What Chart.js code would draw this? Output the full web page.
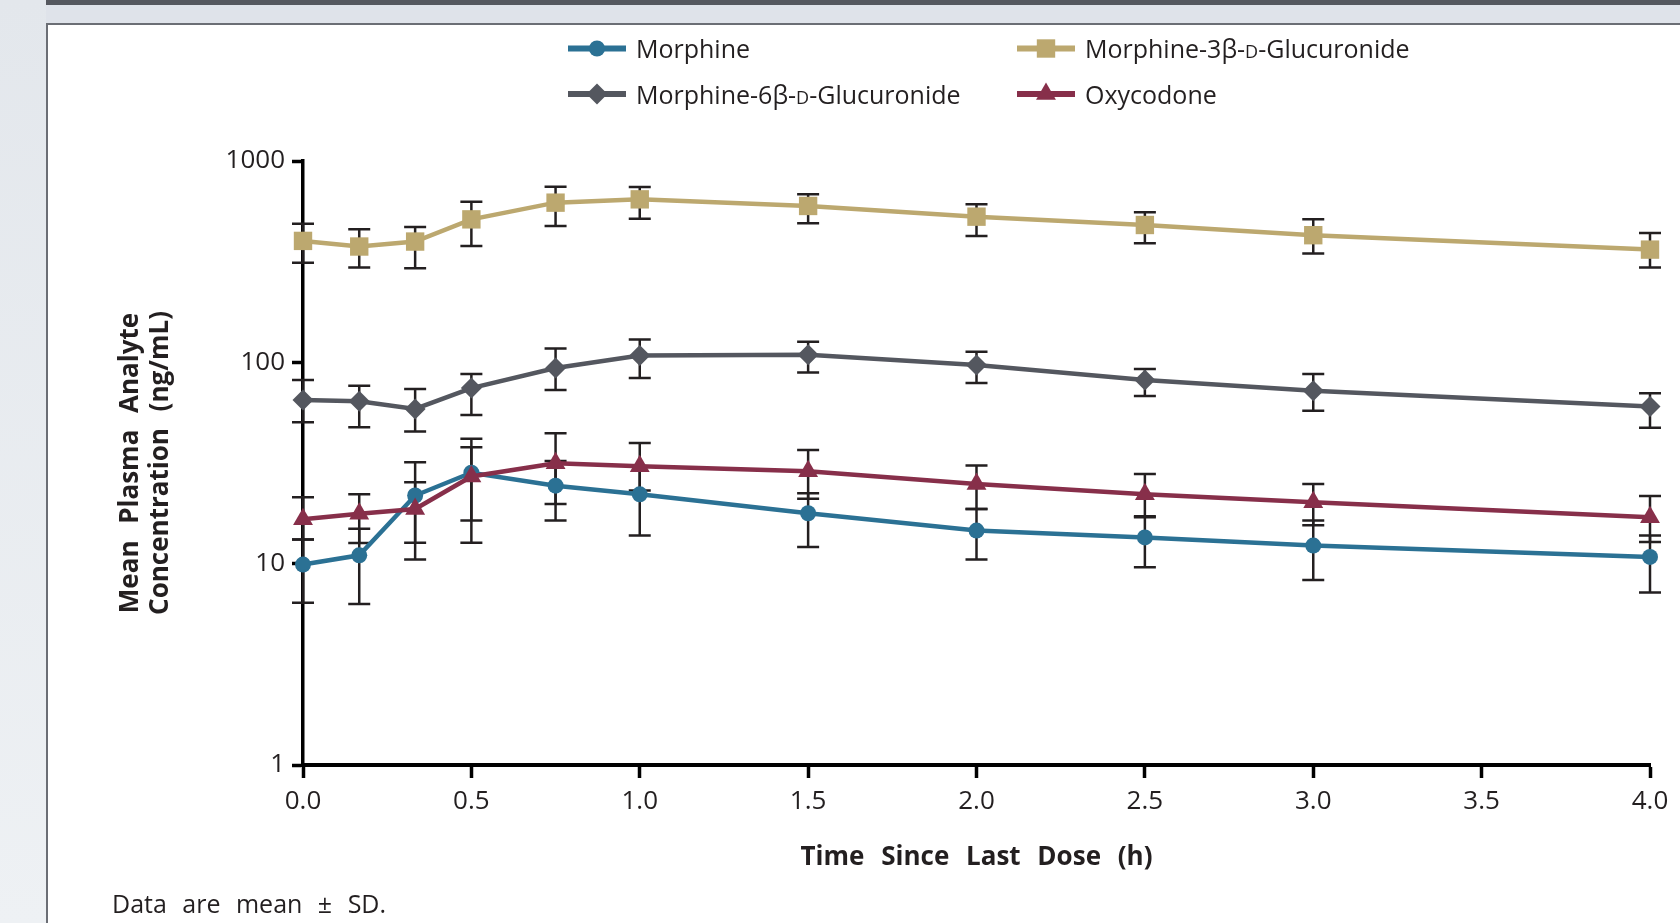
<!DOCTYPE html>
<html>
<head>
<meta charset="utf-8">
<title>Mean Plasma Analyte Concentration</title>
<script src="https://cdn.jsdelivr.net/npm/chart.js@4.4.1/dist/chart.umd.min.js"></script>
<style>
  html, body { margin: 0; padding: 0; }
  body { width: 1680px; height: 923px; overflow: hidden; position: relative;
         background: linear-gradient(#e3e7ec, #eef1f4); font-family: "Open Sans", sans-serif; }
  #topbar { position: absolute; left: 46px; top: 0; right: 0; height: 5px; background: #55585f; }
  #band { position: absolute; left: 46px; top: 5px; right: 0; height: 18px; background: #dfe3ea; }
  #panel { position: absolute; left: 46px; top: 23px; right: -10px; bottom: -10px;
           background: #fff; border: 2.5px solid #6b6e75; }
  #wrap { position: absolute; left: 0; top: 0; width: 1680px; height: 923px; }
  #note { position: absolute; left: 112px; top: 888px; font-size: 25px; line-height: 30px;
          word-spacing: 9px; color: #231f20; white-space: nowrap; }
</style>
</head>
<body>
<div id="topbar"></div>
<div id="band"></div>
<div id="panel"></div>
<div id="wrap"><canvas id="myChart"></canvas></div>
<div id="note">Data are mean ± SD.</div>

<script>
// time since last dose (h)
var times = [0, 0.167, 0.333, 0.5, 0.75, 1, 1.5, 2, 2.5, 3, 4];
var xTickValues = [0, 0.5, 1, 1.5, 2, 2.5, 3, 3.5, 4];
var yTickValues = [1, 10, 100, 1000];

var seriesNames = ['Morphine', 'Morphine-3β-D-Glucuronide', 'Morphine-6β-D-Glucuronide', 'Oxycodone'];

// mean values (ng/mL) and the ends of the SD bars
var morphine     = [9.9, 11.0, 21.8, 28.3, 24.4, 22.1, 17.8, 14.6, 13.5, 12.3, 10.8];
var morphineLow  = [6.4, 6.3, 10.5, 12.7, 16.4, 13.8, 12.1, 10.5, 9.6, 8.3, 7.2];
var morphineHigh = [13.2, 14.9, 31.9, 41.7, 32.4, 30.4, 22.4, 18.7, 17.2, 16.4, 13.8];

var m3g     = [401, 376, 398, 513, 621, 645, 598, 529, 481, 428, 363];
var m3gLow  = [312, 296, 293, 378, 476, 517, 490, 424, 390, 347, 296];
var m3gHigh = [488, 458, 470, 628, 745, 743, 683, 609, 556, 513, 439];

var m6g     = [65.0, 64.0, 58.7, 74.5, 93.7, 108, 109, 97, 81.7, 72.3, 60.3];
var m6gLow  = [50.4, 47.6, 45.3, 54.8, 72.9, 83.6, 89, 78.9, 68.1, 57.5, 47.3];
var m6gHigh = [81.7, 76.6, 73.7, 87.5, 117, 130, 126.5, 113, 92.6, 87.5, 70.2];

var oxycodone = [16.6, 17.7, 18.7, 27.1, 31.5, 30.5, 28.8, 24.9, 22.1, 20.2, 17.0];
var oxyLow    = [13.2, 12.65, 12.7, 16.4, 19.8, 23.1, 21.0, 18.7, 17.0, 15.5, 12.8];
var oxyHigh   = [21.4, 22.1, 25.4, 37.9, 44.4, 39.8, 36.7, 30.7, 27.9, 24.9, 21.7];

var INK = '#231f20';
var FONT = '"Open Sans", sans-serif';

function points(vals) {
    return times.map(function(t, i) { return {x: t, y: vals[i]}; });
}

function series(name, vals, lo, hi, color, style, radius, order) {
    return {
        label: name,
        data: points(vals),
        errLow: lo,
        errHigh: hi,
        borderColor: color,
        backgroundColor: color,
        borderWidth: 4.5,
        pointStyle: style,
        pointRadius: radius,
        pointHoverRadius: radius,
        pointBorderWidth: 0,
        pointBackgroundColor: color,
        tension: 0,
        clip: false,
        order: order
    };
}

// SD bars, drawn behind lines and markers
var errorBars = {
    id: 'errorBars',
    beforeDatasetsDraw: function(chart) {
        var ctx = chart.ctx, xs = chart.scales.x, ys = chart.scales.y;
        ctx.save();
        ctx.strokeStyle = INK;
        ctx.lineWidth = 2.5;
        chart.data.datasets.forEach(function(ds) {
            ds.data.forEach(function(pt, i) {
                var x = xs.getPixelForValue(pt.x);
                var y1 = ys.getPixelForValue(ds.errLow[i]);
                var y2 = ys.getPixelForValue(ds.errHigh[i]);
                ctx.beginPath();
                ctx.moveTo(x, y1); ctx.lineTo(x, y2);
                ctx.moveTo(x - 11, y1); ctx.lineTo(x + 11, y1);
                ctx.moveTo(x - 11, y2); ctx.lineTo(x + 11, y2);
                ctx.stroke();
            });
        });
        ctx.restore();
    }
};

// wide word gaps like the original typesetting
var spacing = {
    id: 'spacing',
    beforeDraw: function(chart) { chart.ctx.wordSpacing = '10px'; }
};

function drawLabel(ctx, text, x, y) {
    var k = text.indexOf('β-D-');
    var parts = k < 0 ? [[text, 25]] : [[text.slice(0, k + 2), 25], ['D', 18], [text.slice(k + 3), 25]];
    parts.forEach(function(p) {
        ctx.font = p[1] + 'px ' + FONT;
        ctx.fillText(p[0], x, y);
        x += ctx.measureText(p[0]).width;
    });
}

// two-column legend
var gridLegend = {
    id: 'gridLegend',
    afterDraw: function(chart) {
        var ctx = chart.ctx;
        var cols = [568, 1017], rows = [48.5, 94];
        ctx.save();
        ctx.wordSpacing = '0px';
        chart.data.datasets.forEach(function(ds, i) {
            var x = cols[i % 2], y = rows[Math.floor(i / 2)];
            ctx.strokeStyle = ds.borderColor;
            ctx.lineWidth = 6;
            ctx.beginPath();
            ctx.moveTo(x, y); ctx.lineTo(x + 58, y);
            ctx.stroke();
            ctx.fillStyle = ds.borderColor;
            Chart.helpers.drawPoint(ctx, {pointStyle: ds.pointStyle, radius: ds.pointRadius, rotation: 0, borderWidth: 0}, x + 29, y);
            ctx.fillStyle = INK;
            ctx.textBaseline = 'alphabetic';
            ctx.textAlign = 'left';
            drawLabel(ctx, ds.label, x + 68, y + 9.5);
        });
        ctx.restore();
    }
};

var ctx = document.getElementById('myChart').getContext('2d');
var myChart = new Chart(ctx, {
    type: 'line',
    data: {
        datasets: [
            series(seriesNames[0], morphine, morphineLow, morphineHigh, '#2b7194', 'circle', 8, 1),
            series(seriesNames[1], m3g, m3gLow, m3gHigh, '#bca86f', 'rect', 13, 2),
            series(seriesNames[2], m6g, m6gLow, m6gHigh, '#54575f', 'rectRot', 10.5, 3),
            series(seriesNames[3], oxycodone, oxyLow, oxyHigh, '#872f4a', 'triangle', 11.5, 0)
        ]
    },
    options: {
        responsive: true,
        maintainAspectRatio: false,
        animation: false,
        layout: { padding: { left: 100, right: 30, top: 161, bottom: 40 } },
        plugins: {
            legend: { display: false },
            tooltip: { enabled: false }
        },
        scales: {
            x: {
                type: 'linear',
                min: 0,
                max: 4,
                afterBuildTicks: function(scale) {
                    scale.ticks = xTickValues.map(function(v) { return {value: v}; });
                },
                afterFit: function(scale) { scale.height = 118; },
                grid: { drawOnChartArea: false, drawTicks: true, tickLength: 13, tickWidth: 3.5, tickColor: '#000' },
                border: { display: true, color: '#000', width: 4 },
                ticks: {
                    autoSkip: false,
                    maxRotation: 0,
                    padding: 8,
                    color: INK,
                    font: { family: FONT, size: 26 },
                    callback: function(v) { return v.toFixed(1); }
                },
                title: {
                    display: true,
                    text: 'Time Since Last Dose (h)',
                    color: INK,
                    font: { family: FONT, size: 26, weight: 'bold' },
                    padding: { top: 0, bottom: 10 }
                }
            },
            y: {
                type: 'logarithmic',
                min: 1,
                max: 1000,
                afterBuildTicks: function(scale) {
                    scale.ticks = yTickValues.map(function(v) { return {value: v, major: true}; });
                },
                afterFit: function(scale) { scale.width = 203; },
                grid: { drawOnChartArea: false, drawTicks: true, tickLength: 11, tickWidth: 3.5, tickColor: '#000' },
                border: { display: true, color: '#000', width: 3.5 },
                ticks: {
                    autoSkip: false,
                    padding: 7,
                    color: INK,
                    font: { family: FONT, size: 26 },
                    callback: function(v) { return String(v); }
                },
                title: {
                    display: true,
                    text: ['Mean Plasma Analyte', 'Concentration (ng/mL)'],
                    color: INK,
                    font: { family: FONT, size: 26, weight: 'bold', lineHeight: 1.15 },
                    padding: { top: 16, bottom: 0 }
                }
            }
        }
    },
    plugins: [spacing, errorBars, gridLegend]
});
</script>
</body>
</html>
